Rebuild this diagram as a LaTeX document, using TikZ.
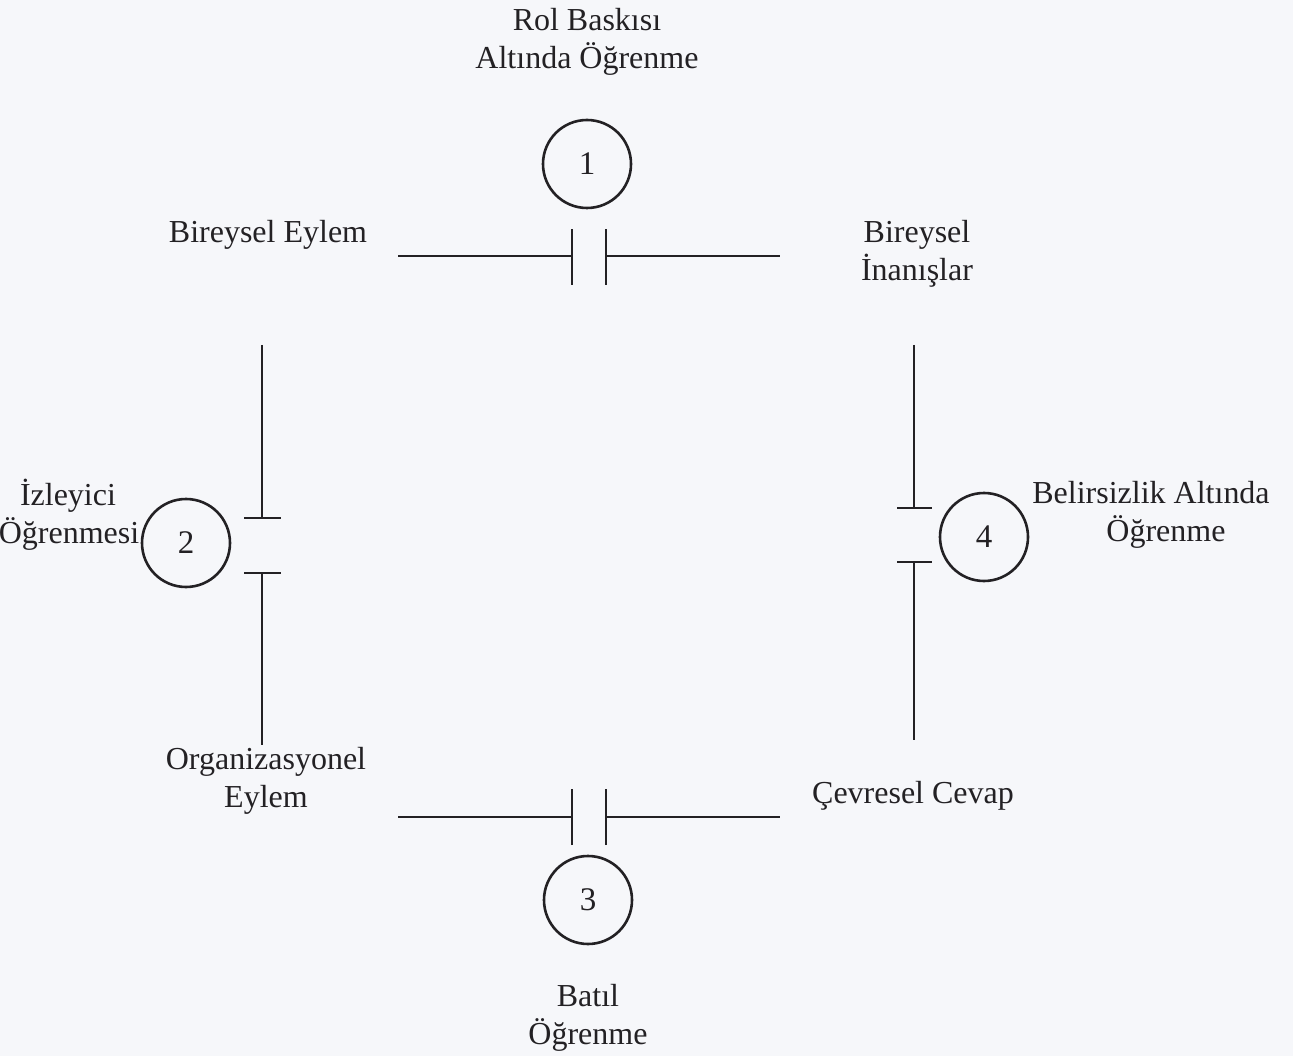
\documentclass[tikz,border=0pt]{standalone}
\usepackage{fontspec}
\setmainfont{Liberation Serif}
\definecolor{paper}{RGB}{246,247,250}
\definecolor{ink}{RGB}{35,33,36}
\begin{document}
\begin{tikzpicture}[x=1pt,y=-1pt,
  lbl/.style={font=\fontsize{32}{38}\selectfont, text=ink, align=center, inner sep=0pt},
  num/.style={circle, draw=ink, line width=2.6pt, minimum size=88pt, inner sep=0pt, font=\fontsize{33}{36}\selectfont, text=ink},
  ln/.style={draw=ink, line width=2.7pt}]
\fill[paper] (0,0) rectangle (1293,1056);
\useasboundingbox (0,0) rectangle (1293,1056);
\clip (0,0) rectangle (1293,1056);

% labels
\node[lbl] (rol) at (587,42) {Rol Baskısı\\Altında Öğrenme};
\node[lbl] (be) at (268,235) {Bireysel Eylem};
\node[lbl] (bi) at (917,254) {Bireysel\\İnanışlar};
\node[lbl] (iz) at (69,515) {\hspace*{-2pt}İzleyici\\Öğrenmesi};
\node[lbl] (bel) at (1151,515) {Belirsizlik Altında\\\hspace*{30pt}Öğrenme};
\node[lbl] (org) at (266,781) {Organizasyonel\\Eylem};
\node[lbl] (cev) at (913,796) {Çevresel Cevap};
\node[lbl] (bat) at (588,1018) {Batıl\\Öğrenme};

% circles
\node[num] (c1) at (587,164) {1};
\node[num] (c2) at (186,543) {2};
\node[num] (c3) at (588,900) {3};
\node[num] (c4) at (984,537) {4};

% top gap symbol
\coordinate (t1) at (398,256);
\coordinate (t2) at (572,256);
\coordinate (t3) at (606,256);
\coordinate (t4) at (780,256);
\draw[ln] (t1) -- (t2);
\draw[ln] (t3) -- (t4);
\draw[ln] ([yshift=-29pt]t2) -- ([yshift=27pt]t2);
\draw[ln] ([yshift=-29pt]t3) -- ([yshift=27pt]t3);

% bottom gap symbol
\coordinate (b1) at (398,817);
\coordinate (b2) at (572,817);
\coordinate (b3) at (606,817);
\coordinate (b4) at (780,817);
\draw[ln] (b1) -- (b2);
\draw[ln] (b3) -- (b4);
\draw[ln] ([yshift=-28pt]b2) -- ([yshift=28pt]b2);
\draw[ln] ([yshift=-28pt]b3) -- ([yshift=28pt]b3);

% left gap symbol
\coordinate (l1) at (262,345);
\coordinate (l2) at (262,518);
\coordinate (l3) at (262,573);
\coordinate (l4) at (262,745);
\draw[ln] (l1) -- (l2);
\draw[ln] (l3) -- (l4);
\draw[ln] ([xshift=-18pt]l2) -- ([xshift=19pt]l2);
\draw[ln] ([xshift=-18pt]l3) -- ([xshift=19pt]l3);

% right gap symbol
\coordinate (r1) at (914,345);
\coordinate (r2) at (914,508);
\coordinate (r3) at (914,562);
\coordinate (r4) at (914,740);
\draw[ln] (r1) -- (r2);
\draw[ln] (r3) -- (r4);
\draw[ln] ([xshift=-17pt]r2) -- ([xshift=18pt]r2);
\draw[ln] ([xshift=-17pt]r3) -- ([xshift=18pt]r3);
\end{tikzpicture}
\end{document}
